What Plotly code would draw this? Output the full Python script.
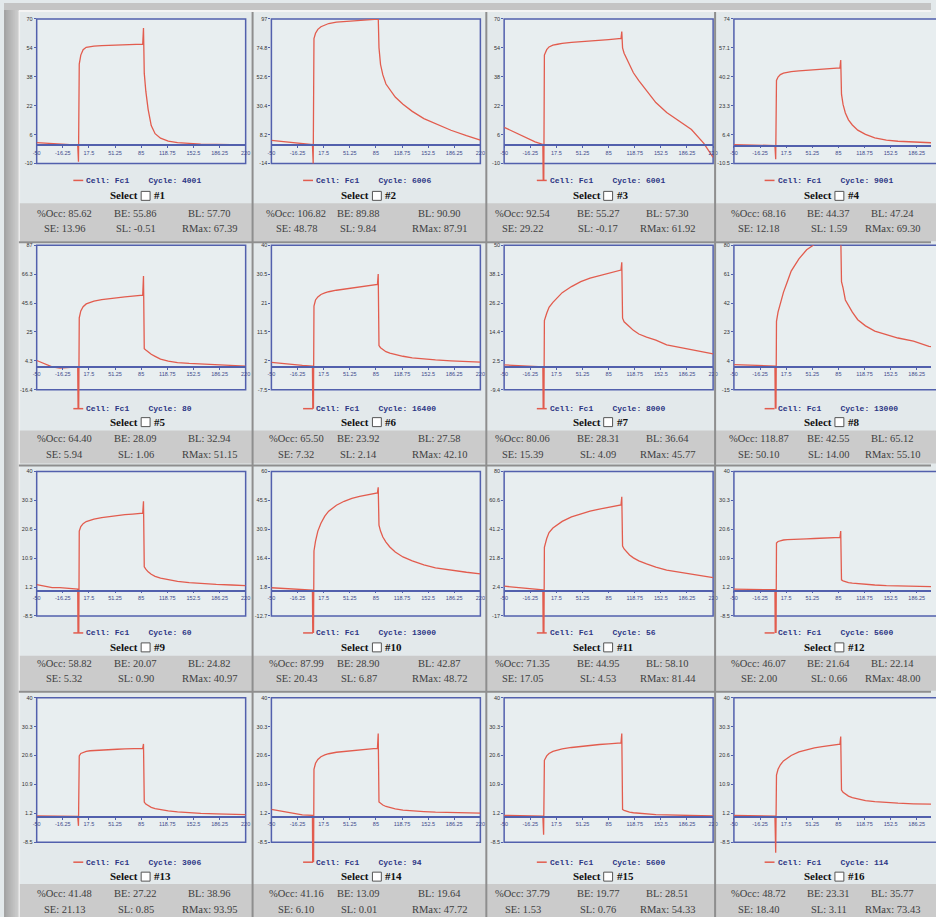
import plotly.graph_objects as go

# ---------------------------------------------------------------------------
# Sensorgram data: time bases (s) and 16 response curves (RU)
# ---------------------------------------------------------------------------
# runs shown in columns 1, 2 and 4
TIME = [-50, -40, -30, -20, -10, 3, 4, 5, 7, 10, 14, 19, 24, 34, 44, 54, 64, 74,
        82, 87, 88, 89, 91, 94, 98, 103, 110, 120, 132, 147, 162, 182, 202, 220]
# runs shown in column 3 (longer contact time)
TIME_LONG = [-50, -40, -30, -20, -10, 0, 1, 2, 5, 8, 13, 19, 25, 37, 49, 61, 73, 85,
             95, 101, 102, 103, 105, 108, 112, 117, 124, 134, 146, 160, 175, 192, 208, 220]

RESP_01 = [1.5, 1.2, 1.0, 0.6, 0.3, 0.2, -9, 45, 50, 53, 54.3, 54.8, 55, 55.2, 55.3, 55.4, 55.5, 55.6,
           55.8, 56, 65, 40, 30, 20, 11, 6.5, 4, 2.4, 1.5, 1.0, 0.7, 0.5, 0.4, 0.3]
RESP_02 = [3.7, 3.2, 2.6, 2.0, 1.2, 0.5, -14, 82, 86, 89, 91, 92.5, 93.5, 94.5, 95, 95.5, 96, 96.3,
           96.6, 96.8, 99, 75, 62, 54, 47, 43, 37, 31.5, 26, 20.5, 16.5, 11.5, 7.4, 4]
RESP_03 = [10, 8, 6, 4, 2, 0.5, -40, 50, 53, 54.5, 55.5, 56, 56.5, 57, 57.5, 58, 58.3, 58.6,
           59, 59.2, 63, 54, 51, 48.5, 44.6, 40.2, 35.8, 30.3, 23.7, 18.2, 13.8, 8.8, 1.1, -6.6]
RESP_04 = [0.5, 0.4, 0.3, 0.2, 0.1, 0, -8, 38, 40, 41.5, 42.3, 42.8, 43.2, 43.6, 44, 44.3, 44.6, 44.9,
           45.2, 45.4, 50, 30, 24, 19, 15, 12, 9, 6.5, 4.5, 3.2, 2.5, 2, 1.6, 1.3]
RESP_05 = [4.5, 2, 0, -1, -0.5, 0, -60, 35, 40, 43, 45, 46, 47, 48, 48.8, 49.5, 50, 50.5,
           51, 51.3, 65, 13, 12, 10.5, 9, 7.5, 5.5, 4, 3, 2.4, 2, 1.5, 1, 0.5]
RESP_06 = [1.5, 1.2, 1.0, 0.8, 0.5, 0.3, -30, 20, 22, 23, 23.8, 24.3, 24.7, 25.2, 25.6, 26, 26.3, 26.6,
           26.9, 27.1, 30.5, 7, 6.3, 5.7, 5, 4.5, 4, 3.5, 3, 2.6, 2.3, 2, 1.8, 1.6]
RESP_07 = [0.8, 0.6, 0.5, 0.3, 0.2, 0, -40, 19, 22, 24.5, 26.5, 28.5, 30.5, 33, 35, 36.5, 37.5, 38.5,
           39.3, 39.8, 43, 20, 18.5, 17.5, 16.5, 15, 13.5, 12.2, 11, 9, 8, 7, 6, 5.3]
RESP_08 = [1.5, 1.5, 1.2, 1.0, 0.8, 0.5, -60, 30, 36, 42, 49, 56, 63, 71, 77, 80.5, 83, 85,
           86, 87, 88, 56, 52, 44, 40, 36, 31, 27, 23.5, 21, 19, 17, 13.5, 12]
RESP_09 = [2, 1.5, 1, 1, 0.8, 0.5, -40, 20, 21.5, 22.5, 23.2, 23.7, 24, 24.5, 24.9, 25.2, 25.5, 25.7,
           25.9, 26, 30, 8, 7.2, 6.3, 5.5, 4.8, 4.2, 3.6, 3.1, 2.7, 2.4, 2.1, 1.9, 1.7]
RESP_10 = [1.5, 1.2, 1.0, 0.8, 0.5, 0.3, -50, 20, 25, 30, 34, 37.5, 40, 43, 45, 46.5, 47.5, 48.3,
           48.8, 49.2, 52, 33, 30, 27, 24.5, 22, 19.5, 17, 15, 13, 11.5, 10.3, 9.3, 8.5]
RESP_11 = [3, 2.5, 2, 1.5, 1, 0.5, -70, 29, 35, 39, 42, 44.5, 46.5, 49.5, 51.7, 53.4, 54.8, 56,
           57, 57.6, 63, 30, 28, 26, 24, 22, 20, 18, 15.8, 13.8, 12.4, 11.2, 9.8, 8.8]
RESP_12 = [0.5, 0.5, 0.4, 0.4, 0.3, 0.3, -40, 16, 16.5, 16.8, 17, 17.1, 17.2, 17.3, 17.4, 17.5, 17.6, 17.7,
           17.8, 17.9, 20, 3.6, 3.3, 3, 2.7, 2.5, 2.3, 2.1, 1.9, 1.7, 1.6, 1.5, 1.4, 1.3]
RESP_13 = [0.3, 0.3, 0.3, 0.2, 0.2, 0.2, -3, 20.5, 21.3, 21.7, 22, 22.2, 22.3, 22.5, 22.6, 22.7, 22.8, 22.9,
           23, 23, 24.5, 5, 4.3, 3.7, 3.2, 2.8, 2.4, 2, 1.7, 1.4, 1.2, 1, 0.9, 0.8]
RESP_14 = [2.5, 2, 1.5, 1, 0.7, 0.5, -45, 16, 18, 19.3, 20.2, 20.8, 21.2, 21.7, 22, 22.3, 22.5, 22.7,
           22.9, 23, 28, 5, 4.5, 4, 3.5, 3.1, 2.7, 2.3, 2, 1.8, 1.6, 1.5, 1.4, 1.3]
RESP_15 = [0.5, 0.5, 0.4, 0.4, 0.3, 0.3, -6, 19, 20.5, 21.3, 22, 22.5, 22.8, 23.3, 23.7, 24, 24.3, 24.5,
           24.7, 24.8, 28, 2.5, 2.2, 1.9, 1.6, 1.4, 1.2, 1, 0.8, 0.7, 0.6, 0.5, 0.4, 0.3]
RESP_16 = [0.5, 0.5, 0.4, 0.4, 0.3, 0.3, -12, 14, 16, 17.5, 18.8, 19.8, 20.6, 21.8, 22.6, 23.2, 23.6, 23.9,
           24.2, 24.4, 27, 9, 8.3, 7.6, 7, 6.5, 6, 5.5, 5.1, 4.8, 4.6, 4.4, 4.3, 4.2]

RESPONSES = [RESP_01, RESP_02, RESP_03, RESP_04, RESP_05, RESP_06, RESP_07, RESP_08,
             RESP_09, RESP_10, RESP_11, RESP_12, RESP_13, RESP_14, RESP_15, RESP_16]
TIMES = [TIME, TIME, TIME_LONG, TIME]  # per column

# response scale of each panel (value at top / bottom edge of the frame)
Y_TOP = [70, 97, 70, 74, 87, 40, 50, 80, 40, 60, 80, 40, 40, 40, 40, 40]
Y_BOTTOM = [-10, -14, -10, -10.5, -16.4, -7.5, -9.4, -15, -8.5, -12.7, -17, -8.5, -8.5, -8.5, -8.5, -8.5]

X_TICKS = [-50, -16.25, 17.5, 51.25, 85, 118.75, 152.5, 186.25, 220]
X_TICK_TEXT = ["-50", "-16.25", "17.5", "51.25", "85", "118.75", "152.5", "186.25", "220"]

CYCLE = ["4001", "6006", "6001", "9001", "80", "16400", "8000", "13000",
         "60", "13000", "56", "5600", "3006", "94", "5600", "114"]

OCC = ["85.62", "106.82", "92.54", "68.16", "64.40", "65.50", "80.06", "118.87",
       "58.82", "87.99", "71.35", "46.07", "41.48", "41.16", "37.79", "48.72"]
BE = ["55.86", "89.88", "55.27", "44.37", "28.09", "23.92", "28.31", "42.55",
      "20.07", "28.90", "44.95", "21.64", "27.22", "13.09", "19.77", "23.31"]
BL = ["57.70", "90.90", "57.30", "47.24", "32.94", "27.58", "36.64", "65.12",
      "24.82", "42.87", "58.10", "22.14", "38.96", "19.64", "28.51", "35.77"]
SE = ["13.96", "48.78", "29.22", "12.18", "5.94", "7.32", "15.39", "50.10",
      "5.32", "20.43", "17.05", "2.00", "21.13", "6.10", "1.53", "18.40"]
SL = ["-0.51", "9.84", "-0.17", "1.59", "1.06", "2.14", "4.09", "14.00",
      "0.90", "6.87", "4.53", "0.66", "0.85", "0.01", "0.76", "3.11"]
RMAX = ["67.39", "87.91", "61.92", "69.30", "51.15", "42.10", "45.77", "55.10",
        "40.97", "48.72", "81.44", "48.00", "93.95", "47.72", "54.33", "73.43"]

# ---------------------------------------------------------------------------
# Page geometry (pixels)
# ---------------------------------------------------------------------------
W, H = 936, 917
CELL_L = [16, 251, 487, 718]
CELL_R = [251, 487, 718, 954]
BOX_L = [33, 270, 505, 737]
BOX_W = 211
BOX_T = [16, 243, 470, 697]
BOX_H = 145
LEG_Y = [178, 407, 632, 862]
SEL_Y = [193, 420, 646, 876]
BAND_T = [201, 429, 655, 884]
BAND_B = [239, 462, 690, 917]
STAT_Y1 = [211, 437, 663, 893]
STAT_Y2 = [226, 453, 678, 909]
STAT_X = [[61, 133, 207], [295, 358, 440], [524, 600, 670], [762, 833, 897]]
LEG_X = [70, 302, 538, 768]
X_MIN, X_SPAN = -50, 270

FRAME = "#5260ad"
TRACE = "#e25c4e"
CELL_BG = "#e3e9eb"
BOX_BG = "#e8eef0"
BAND_BG = "#cbcbcb"


def fx(p):
    return p / W


def fy(p):
    return 1 - p / H


fig = go.Figure()
shapes = []
annotations = []
layout_axes = {}

# grey page margin with a soft left-to-right shading
MARGIN_GREYS = ["#a4a4a4", "#aaaaaa", "#b0b0b0", "#b6b6b6", "#bcbcbc", "#c2c2c2", "#c8c8c8", "#cecece"]
for k, g in enumerate(MARGIN_GREYS):
    shapes.append(dict(type="rect", xref="paper", yref="paper", x0=fx(k * 2), x1=fx(k * 2 + 2),
                       y0=0, y1=1, fillcolor=g, line=dict(width=0), layer="below"))
shapes.append(dict(type="line", xref="paper", yref="paper", x0=fx(15.5), x1=fx(15.5), y0=0, y1=fy(8),
                   line=dict(color="#f0f0f0", width=1.5), layer="below"))
shapes.append(dict(type="rect", xref="paper", yref="paper", x0=0, x1=1, y0=fy(7), y1=1,
                   fillcolor="#c4c4c4", line=dict(width=0), layer="below"))
shapes.append(dict(type="line", xref="paper", yref="paper", x0=fx(15), x1=1, y0=fy(8), y1=fy(8),
                   line=dict(color="#f4f4f4", width=2), layer="below"))

for i in range(16):
    r, c = divmod(i, 4)
    n = i + 1
    xa = "x" if n == 1 else f"x{n}"
    ya = "y" if n == 1 else f"y{n}"
    xkey = "xaxis" if n == 1 else f"xaxis{n}"
    ykey = "yaxis" if n == 1 else f"yaxis{n}"

    top, bot = Y_TOP[i], Y_BOTTOM[i]
    per_px = (top - bot) / BOX_H
    y_ext = top - (LEG_Y[r] - BOX_T[r]) * per_px
    zero_px = BOX_T[r] + top / per_px
    right_px = min(BOX_L[c] + BOX_W, W)
    x_right = X_MIN + X_SPAN * (right_px - BOX_L[c]) / BOX_W

    # cell background pieces
    shapes.append(dict(type="rect", xref="paper", yref="paper",
                       x0=fx(CELL_L[c]), x1=fx(CELL_R[c]), y0=fy(BAND_B[r]), y1=fy(BAND_T[r]),
                       fillcolor=BAND_BG, line=dict(width=0), layer="below"))
    shapes.append(dict(type="rect", xref="paper", yref="paper",
                       x0=fx(BOX_L[c]), x1=fx(BOX_L[c] + BOX_W), y0=fy(BOX_T[r] + BOX_H), y1=fy(BOX_T[r]),
                       fillcolor=BOX_BG, line=dict(color=FRAME, width=1.5), layer="below"))

    fig.add_trace(go.Scatter(x=TIMES[c], y=RESPONSES[i], mode="lines", xaxis=xa, yaxis=ya,
                             line=dict(color=TRACE, width=1.3), showlegend=False, hoverinfo="skip"))

    yticks = [bot + k * (top - bot) / 5 for k in range(6)]
    ytext = [(f"{v:.1f}".rstrip("0").rstrip(".")) for v in yticks]

    layout_axes[xkey] = dict(domain=[fx(BOX_L[c]), fx(right_px)], range=[X_MIN, x_right],
                             anchor="free", position=fy(zero_px), showline=True, linecolor=FRAME,
                             linewidth=1.5, ticks="outside", ticklen=2, tickcolor=FRAME,
                             tickvals=X_TICKS, ticktext=X_TICK_TEXT,
                             tickfont=dict(size=5.5, color="#3f4a8c", family="Liberation Sans"),
                             showgrid=False, zeroline=False, fixedrange=True)
    layout_axes[ykey] = dict(domain=[fy(LEG_Y[r]), fy(BOX_T[r])], range=[y_ext, top],
                             anchor=xa, showline=False, ticks="outside", ticklen=2, tickcolor=FRAME,
                             tickvals=yticks, ticktext=ytext,
                             tickfont=dict(size=5.5, color="#333333", family="Liberation Sans"),
                             showgrid=False, zeroline=False, fixedrange=True)

    # legend line and label
    lx = LEG_X[c]
    shapes.append(dict(type="line", xref="paper", yref="paper", x0=fx(lx), x1=fx(lx + 10),
                       y0=fy(LEG_Y[r]), y1=fy(LEG_Y[r]), line=dict(color=TRACE, width=1.5)))
    annotations.append(dict(x=fx(lx + 11), y=fy(LEG_Y[r]), xref="paper", yref="paper",
                            xanchor="left", yanchor="middle", showarrow=False,
                            text=f"<b>Cell: Fc1    Cycle: {CYCLE[i]}</b>",
                            font=dict(family="Liberation Mono", size=8, color="#2c3584")))

    # select checkbox row
    cx = (CELL_L[c] + min(CELL_R[c], CELL_L[c] + 236)) / 2 + (2 if c == 0 else 0)
    annotations.append(dict(x=fx(cx + 2), y=fy(SEL_Y[r]), xref="paper", yref="paper",
                            xanchor="right", yanchor="middle", showarrow=False, text="<b>Select</b>",
                            font=dict(family="Liberation Serif", size=11, color="#111111")))
    shapes.append(dict(type="rect", xref="paper", yref="paper", x0=fx(cx + 3), x1=fx(cx + 12),
                       y0=fy(SEL_Y[r] + 5), y1=fy(SEL_Y[r] - 4), fillcolor="#ffffff",
                       line=dict(color="#555555", width=1)))
    annotations.append(dict(x=fx(cx + 14), y=fy(SEL_Y[r]), xref="paper", yref="paper",
                            xanchor="left", yanchor="middle", showarrow=False, text=f"<b>#{n}</b>",
                            font=dict(family="Liberation Serif", size=11, color="#111111")))

    # statistics band
    row1 = [f"%Occ: {OCC[i]}", f"BE: {BE[i]}", f"BL: {BL[i]}"]
    row2 = [f"SE: {SE[i]}", f"SL: {SL[i]}", f"RMax: {RMAX[i]}"]
    for k in range(3):
        for txt, yy in ((row1[k], STAT_Y1[r]), (row2[k], STAT_Y2[r])):
            annotations.append(dict(x=fx(STAT_X[c][k]), y=fy(yy), xref="paper", yref="paper",
                                    xanchor="center", yanchor="middle", showarrow=False, text=txt,
                                    font=dict(family="Liberation Serif", size=10.5, color="#404040")))

# separators between cells
for xs in (251, 487, 718):
    shapes.append(dict(type="line", xref="paper", yref="paper", x0=fx(xs), x1=fx(xs),
                       y0=0, y1=fy(9), line=dict(color="#8e8e8e", width=2)))
for ys in (240, 464, 691):
    shapes.append(dict(type="line", xref="paper", yref="paper", x0=fx(15), x1=1,
                       y0=fy(ys), y1=fy(ys), line=dict(color="#8e8e8e", width=2)))

fig.update_layout(width=W, height=H, margin=dict(l=0, r=0, t=0, b=0),
                  paper_bgcolor=CELL_BG, plot_bgcolor="rgba(0,0,0,0)",
                  shapes=shapes, annotations=annotations, showlegend=False, **layout_axes)

fig.write_html("out.html")
